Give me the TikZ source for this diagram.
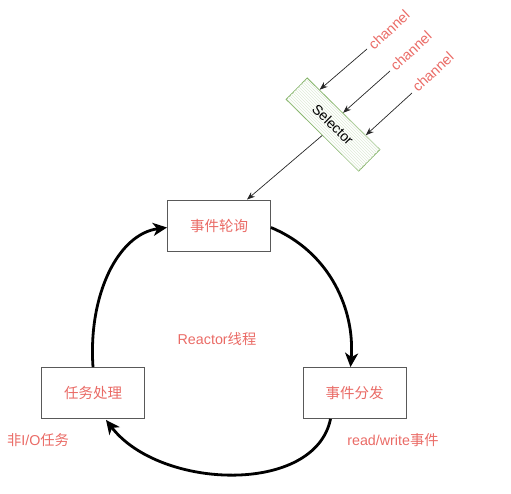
\documentclass[tikz,border=0pt]{standalone}
\usepackage{fontspec}
\setmainfont{Liberation Sans}
\newfontfamily\cjk{Noto Sans CJK SC}
\usetikzlibrary{arrows.meta,patterns,calc}
\definecolor{txtred}{HTML}{EA6B66}
\definecolor{selgreen}{HTML}{82B366}
\tikzset{
  box/.style={draw=black!65, line width=0.9pt, fill=white, minimum width=103pt, minimum height=51pt, inner sep=0pt, text=txtred, font=\cjk\fontsize{14.5}{17}\selectfont},
  lbl/.style={text=txtred, font=\fontsize{14.3}{17}\selectfont, inner sep=0pt},
  selbox/.style={draw=selgreen, line width=0.8pt, fill=white, postaction={pattern=north west lines, pattern color=selgreen!25}, minimum width=102pt, minimum height=30pt, inner sep=0pt, font=\fontsize{14}{17}\selectfont},
  thin/.style={draw=black!85, line width=0.7pt, -{Stealth[length=8pt,width=6pt]}},
  thick/.style={draw=black, line width=2.8pt, -{Stealth[length=14pt,width=13pt,inset=4pt]}},
}
\begin{document}
\begin{tikzpicture}[x=1pt,y=-1pt]
\useasboundingbox (0,0) rectangle (511,493);
\node[box] (poll) at (219,225.5) {事件轮询};
\node[box] (task) at (93,393) {任务处理};
\node[box] (disp) at (354.5,393) {事件分发};
\node[selbox, rotate=-44.6] (sel) at (333,124.5) {Selector};
\node[lbl, rotate=43] (ch1) at (389,30) {channel};
\node[lbl, rotate=43] (ch2) at (411,51) {channel};
\node[lbl, rotate=43] (ch3) at (433,72) {channel};
\node[lbl] (reactor) at (217,339) {Reactor{\cjk 线程}};
\node[lbl] (nonio) at (38,440) {{\cjk 非}I/O{\cjk 任务}};
\node[lbl] (rw) at (393,440) {read/write{\cjk 事件}};
\coordinate (c1s) at (367,49);
\coordinate (c2s) at (390,71);
\coordinate (c3s) at (412,93);
\draw[thin] (c1s) -- ($(sel.north west)!0.17!(sel.north east)$);
\draw[thin] (c2s) -- ($(sel.north west)!0.49!(sel.north east)$);
\draw[thin] (c3s) -- ($(sel.north west)!0.80!(sel.north east)$);
\draw[thin] (sel.south) -- ($(poll.north)+(28,0)$);
\draw[thick] ($(poll.east)+(0,2)$) .. controls (330,252) and (355,310) .. ($(disp.north)+(-4,0)$);
\draw[thick] ($(disp.south)+(-24,0)$) .. controls (315,495) and (160,490) .. ($(task.south)+(13,1)$);
\draw[thick] (task.north) .. controls (88,295) and (118,234) .. ($(poll.west)+(0,2)$);
\end{tikzpicture}
\end{document}
